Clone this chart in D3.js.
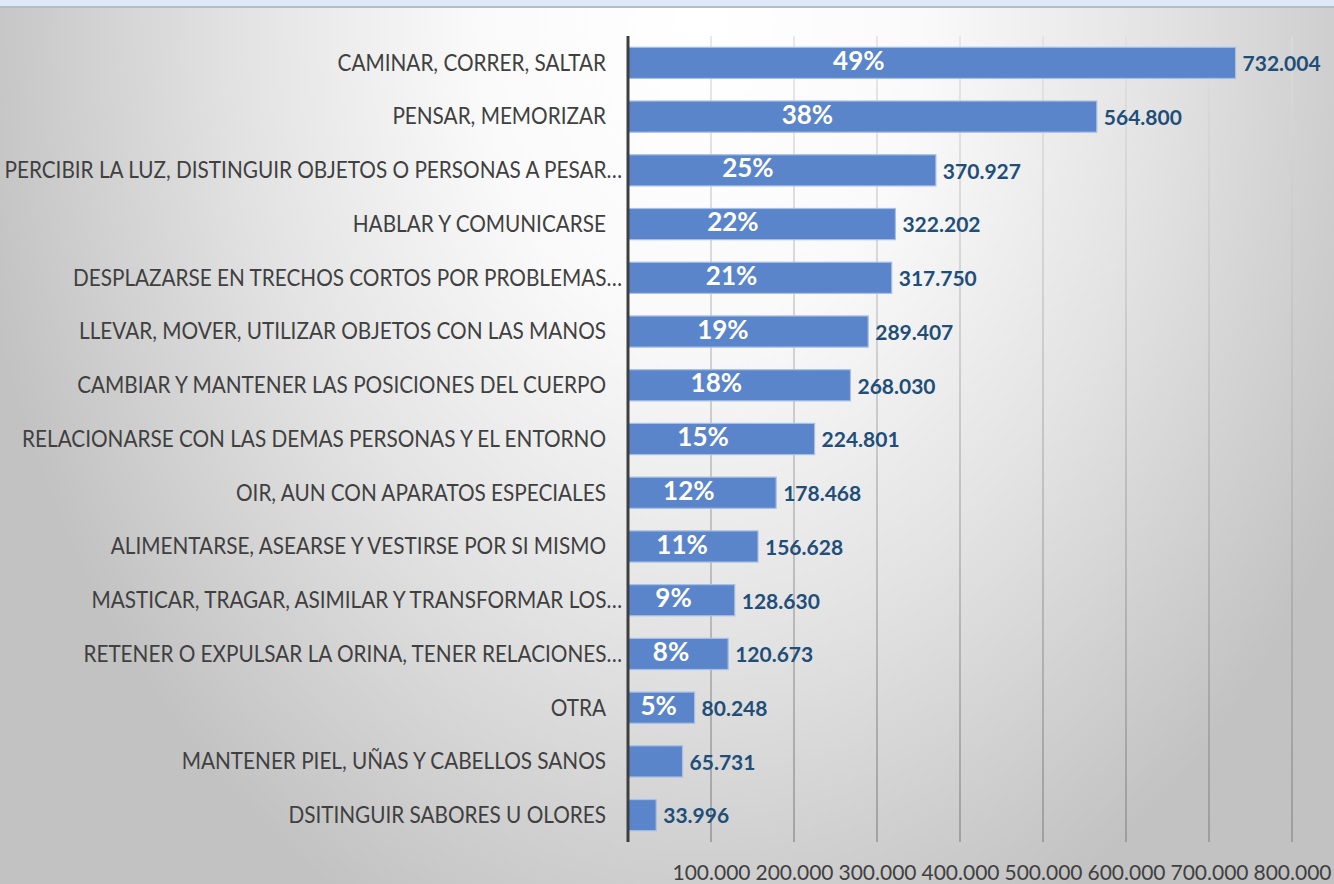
<!DOCTYPE html>
<html>
<head>
<meta charset="utf-8">
<script src="https://cdn.jsdelivr.net/npm/d3@7/dist/d3.min.js"></script>
<style>
  html, body { margin: 0; padding: 0; }
  body { width: 1334px; height: 884px; overflow: hidden; }
  svg { display: block; }
</style>
</head>
<body>
<svg id="chart" width="1334" height="884"></svg>
<script>
const categories = [
  "CAMINAR, CORRER, SALTAR",
  "PENSAR, MEMORIZAR",
  "PERCIBIR LA LUZ, DISTINGUIR OBJETOS O PERSONAS A PESAR…",
  "HABLAR Y COMUNICARSE",
  "DESPLAZARSE EN TRECHOS CORTOS POR PROBLEMAS…",
  "LLEVAR, MOVER, UTILIZAR OBJETOS CON LAS MANOS",
  "CAMBIAR Y MANTENER LAS POSICIONES DEL CUERPO",
  "RELACIONARSE CON LAS DEMAS PERSONAS Y EL ENTORNO",
  "OIR, AUN CON APARATOS ESPECIALES",
  "ALIMENTARSE, ASEARSE Y VESTIRSE POR SI MISMO",
  "MASTICAR, TRAGAR, ASIMILAR Y TRANSFORMAR LOS…",
  "RETENER O EXPULSAR LA ORINA, TENER RELACIONES…",
  "OTRA",
  "MANTENER PIEL, UÑAS Y CABELLOS SANOS",
  "DSITINGUIR SABORES U OLORES"
];
const values = [732004, 564800, 370927, 322202, 317750, 289407, 268030, 224801, 178468, 156628, 128630, 120673, 80248, 65731, 33996];
const percents = [49, 38, 25, 22, 21, 19, 18, 15, 12, 11, 9, 8, 5, null, null];
const tickValues = [100000, 200000, 300000, 400000, 500000, 600000, 700000, 800000];

const svg = d3.select("#chart");
const W = 1334, H = 884;
const plotL = 628, plotR = 1292, plotT = 36, plotB = 842;

const defs = svg.append("defs");
const bg = defs.append("radialGradient")
  .attr("id", "bg").attr("gradientUnits", "userSpaceOnUse")
  .attr("cx", 0).attr("cy", 0).attr("r", 1)
  .attr("gradientTransform", "translate(700,20) scale(740,1000)");
bg.append("stop").attr("offset", 0).attr("stop-color", "#ffffff");
bg.append("stop").attr("offset", 0.3).attr("stop-color", "#fafafa");
bg.append("stop").attr("offset", 0.62).attr("stop-color", "#e3e3e3");
bg.append("stop").attr("offset", 1).attr("stop-color", "#c2c2c2");

const gg = defs.append("linearGradient")
  .attr("id", "grid").attr("gradientUnits", "userSpaceOnUse")
  .attr("x1", 0).attr("y1", plotT).attr("x2", 0).attr("y2", plotB);
gg.append("stop").attr("offset", 0).attr("stop-color", "#dedede");
gg.append("stop").attr("offset", 1).attr("stop-color", "#8a8a8a");

svg.append("rect").attr("width", W).attr("height", H).attr("fill", "url(#bg)");
svg.append("rect").attr("width", W).attr("height", 7).attr("fill", "#dce9f9");
svg.append("rect").attr("y", 6).attr("width", W).attr("height", 2).attr("fill", "#b9bcc0");

const x = d3.scaleLinear().domain([0, 800000]).range([plotL, plotR]);
const y = d3.scaleBand().domain(categories).range([plotT, plotB]).paddingInner(0.42).paddingOuter(0.21);

const locale = d3.formatLocale({ decimal: ",", thousands: ".", grouping: [3], currency: ["$", ""] });
const fmt = locale.format(",.0f");
const fmtVal = locale.format(",d");

// gridlines
svg.append("g").selectAll("line").data(tickValues).join("line")
  .attr("x1", d => x(d)).attr("x2", d => x(d))
  .attr("y1", plotT).attr("y2", plotB)
  .attr("stroke", "url(#grid)").attr("stroke-width", 1.3);

// axis labels
const axis = d3.axisBottom(x).tickValues(tickValues).tickFormat(fmt).tickSize(0).tickPadding(0);
const ag = svg.append("g").attr("transform", `translate(0,${H - 11})`).call(axis);
ag.select(".domain").remove();
ag.selectAll("text")
  .attr("font-family", "Lato, sans-serif").attr("font-size", 21)
  .attr("fill", "#404040").attr("dy", "0.35em").attr("y", 0);

// bars
const rowData = categories.map((c, i) => ({ c, v: values[i], p: percents[i] }));
svg.append("g").selectAll("rect").data(rowData).join("rect")
  .attr("x", x(0)).attr("y", d => y(d.c))
  .attr("width", d => x(d.v) - x(0)).attr("height", y.bandwidth())
  .attr("fill", "#5b85ca").attr("stroke", "#a6bfe6").attr("stroke-width", 1.2);

// left axis line
svg.append("line").attr("x1", plotL).attr("x2", plotL).attr("y1", plotT).attr("y2", plotB)
  .attr("stroke", "#3f3f3f").attr("stroke-width", 3);

// category labels (slightly condensed to mimic the original narrow face)
svg.append("g").selectAll("text").data(rowData).join("text")
  .attr("transform", d => `translate(${d.c.endsWith("…") ? plotL - 6 : plotL - 22},${y(d.c) + y.bandwidth() / 2}) scale(0.922,1)`)
  .attr("dy", "0.35em").attr("text-anchor", "end")
  .attr("font-family", "Lato, sans-serif").attr("font-size", 22.5)
  .attr("fill", "#404040").text(d => d.c);

// value labels
svg.append("g").selectAll("text").data(rowData).join("text")
  .attr("x", d => x(d.v) + 7)
  .attr("y", d => y(d.c) + y.bandwidth() / 2 + 1)
  .attr("dy", "0.35em")
  .attr("font-family", "Lato, sans-serif").attr("font-weight", "bold").attr("font-size", 21)
  .attr("fill", "#1f4e79").text(d => fmtVal(d.v));

// percent labels
svg.append("g").selectAll("text").data(rowData.filter(d => d.p !== null)).join("text")
  .attr("x", d => x(0) + 6 + 0.37 * (x(d.v) - x(0)))
  .attr("y", d => y(d.c) + y.bandwidth() / 2 - 2)
  .attr("dy", "0.35em").attr("text-anchor", "middle")
  .attr("font-family", "Lato, sans-serif").attr("font-weight", "bold").attr("font-size", 26)
  .attr("fill", "#ffffff").text(d => d.p + "%");
</script>
</body>
</html>
